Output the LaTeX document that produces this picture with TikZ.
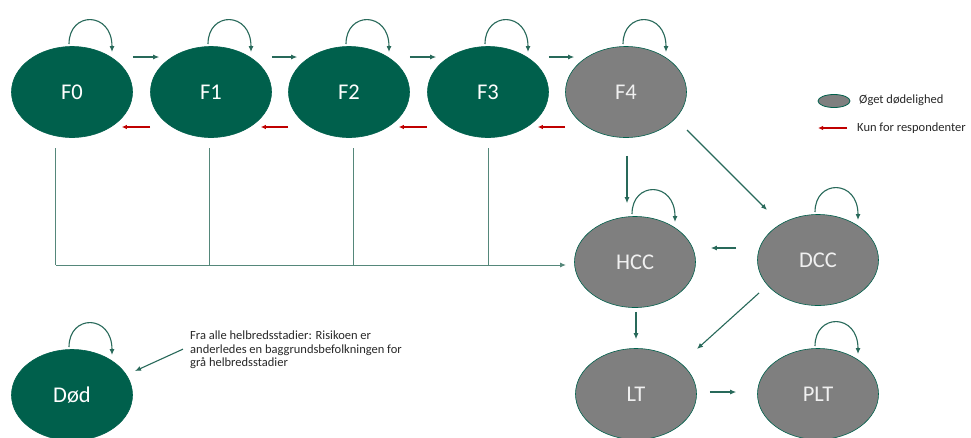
\documentclass[tikz,border=0pt]{standalone}
\usepackage{fontspec}
\setmainfont{Carlito}
\usetikzlibrary{shapes.geometric,arrows.meta,calc}
\definecolor{dgreen}{RGB}{0,96,76}
\definecolor{sgray}{RGB}{127,127,127}
\definecolor{agreen}{RGB}{40,105,90}
\definecolor{lgreen}{RGB}{85,135,122}
\definecolor{rred}{RGB}{192,0,0}
\definecolor{txt}{RGB}{40,40,40}
\tikzset{
  state/.style={ellipse, minimum width=121pt, minimum height=91pt, inner sep=0pt,
    draw=dgreen, line width=0.6pt, text=white, font=\fontsize{22.5}{24}\selectfont},
  gstate/.style={state, fill=dgreen},
  xstate/.style={state, fill=sgray, text=white!94!black},
  arr/.style={draw=agreen, line width=1.1pt, -{Latex[length=6pt,width=5pt]}},
  redarr/.style={draw=rred, line width=1.1pt, -{Latex[length=5pt,width=4.5pt]}},
  busline/.style={draw=lgreen, line width=1pt},
  legtext/.style={anchor=west, inner sep=0pt, text=txt, font=\fontsize{12.5}{14}\selectfont},
}
\newcommand{\selfloop}[1]{\draw[arr] ($(#1)+(-3,-48)$) .. controls ($(#1)+(-3,-81)$) and ($(#1)+(40,-81)$) .. ($(#1)+(40,-40)$);}
\begin{document}
\begin{tikzpicture}[x=1pt,y=-1pt]
\useasboundingbox[fill=white] (0,0) rectangle (971,437);
% states
\node[gstate] (F0) at (72,92) {F0};
\node[gstate] (F1) at (211,92) {F1};
\node[gstate] (F2) at (349,92) {F2};
\node[gstate] (F3) at (488,92) {F3};
\node[xstate] (F4) at (626,92) {F4};
\node[xstate] (HCC) at (635,262) {HCC};
\node[xstate] (DCC) at (818,260) {DCC};
\node[xstate] (LT) at (636,394) {LT};
\node[xstate] (PLT) at (818,394) {PLT};
\node[gstate] (Dod) at (72,395) {Død};
% self loops
\selfloop{F0}
\selfloop{F1}
\selfloop{F2}
\selfloop{F3}
\selfloop{F4}
\selfloop{HCC}
\selfloop{DCC}
\selfloop{PLT}
\selfloop{Dod}
% forward arrows
\foreach \a/\b in {F0/F1,F1/F2,F2/F3,F3/F4}{
  \draw[arr] ($(\a.east)+(0,-35)$) -- ($(\b.west)+(9,-35)$);
  \draw[redarr] ($(\b.west)+(0,35)$) -- ($(\a.east)+(-11,35)$);
}
% bus to HCC
\coordinate (bus0) at (55.5,265);
\coordinate (hccin) at (566,265);
\draw[busline] (55.5,148) -- (bus0);
\draw[busline] (209,148) -- (209,265);
\draw[busline] (353,148) -- (353,265);
\draw[busline] (488,148) -- (488,265);
\draw[busline, -{Latex[length=6pt,width=5pt]}] (bus0) -- (hccin);
% other transitions
\draw[arr] ($(F4.south)+(1,18)$) -- ($(HCC.north)+(-8,-13)$);
\draw[arr] ($(F4)+(61,38)$) -- ($(DCC)+(-51,-50)$);
\draw[arr] ($(DCC.west)+(-21,-12)$) -- ($(HCC.east)+(15,-14)$);
\draw[arr] ($(DCC)+(-59,33)$) -- ($(LT)+(61,-45)$);
\draw[arr] ($(HCC.south)+(1,4)$) -- ($(LT.north)+(0,-9)$);
\draw[arr] ($(LT.east)+(13,-2)$) -- ($(PLT.west)+(-21,-2)$);
% legend
\node[ellipse, minimum width=32pt, minimum height=13pt, inner sep=0pt, fill=sgray, draw=dgreen, line width=0.8pt] (legE) at (834,101) {};
\node[legtext] (legT1) at (859,100) {Øget dødelighed};
\coordinate (legA) at (847,128);
\coordinate (legB) at (818,128);
\draw[redarr] (legA) -- (legB);
\node[legtext] (legT2) at (857,128) {Kun for respondenter};
% annotation
\node[anchor=north west, inner sep=0pt, align=left, text=txt, font=\fontsize{12.5}{13.5}\selectfont] (note) at (190,331)
  {Fra alle helbredsstadier: Risikoen er\\anderledes en baggrundsbefolkningen for\\grå helbredsstadier};
\draw[arr] ($(note.west)+(-7,-1)$) -- ($(Dod)+(63,-24)$);
\end{tikzpicture}
\end{document}
